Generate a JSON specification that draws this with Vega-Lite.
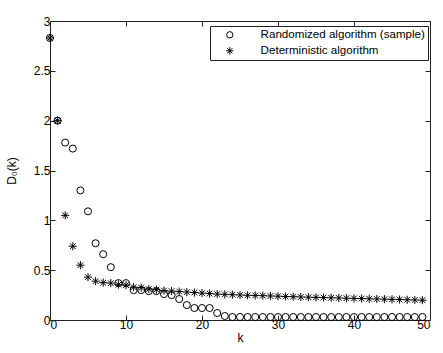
{
  "$schema": "https://vega.github.io/schema/vega-lite/v6.json",
  "width": 380,
  "height": 299,
  "autosize": "none",
  "padding": {"left": 50, "top": 21, "right": 13, "bottom": 33},
  "background": "white",
  "config": {
    "view": {"stroke": "#222", "strokeWidth": 1},
    "font": "Liberation Sans",
    "axis": {"domain": false, "grid": false, "tickColor": "#222", "tickSize": -5, "labelFontSize": 12, "labelColor": "#000", "titleFontSize": 12, "titleFontWeight": "normal", "titleColor": "#000", "labelFont": "Liberation Sans", "titleFont": "Liberation Sans"}
  },
  "data": {"values": [
    {"k":0,"D":2.83,"s":"Randomized algorithm (sample)"},
    {"k":1,"D":2.0,"s":"Randomized algorithm (sample)"},
    {"k":2,"D":1.78,"s":"Randomized algorithm (sample)"},
    {"k":3,"D":1.72,"s":"Randomized algorithm (sample)"},
    {"k":4,"D":1.30,"s":"Randomized algorithm (sample)"},
    {"k":5,"D":1.09,"s":"Randomized algorithm (sample)"},
    {"k":6,"D":0.77,"s":"Randomized algorithm (sample)"},
    {"k":7,"D":0.66,"s":"Randomized algorithm (sample)"},
    {"k":8,"D":0.53,"s":"Randomized algorithm (sample)"},
    {"k":9,"D":0.37,"s":"Randomized algorithm (sample)"},
    {"k":10,"D":0.37,"s":"Randomized algorithm (sample)"},
    {"k":11,"D":0.30,"s":"Randomized algorithm (sample)"},
    {"k":12,"D":0.30,"s":"Randomized algorithm (sample)"},
    {"k":13,"D":0.29,"s":"Randomized algorithm (sample)"},
    {"k":14,"D":0.29,"s":"Randomized algorithm (sample)"},
    {"k":15,"D":0.26,"s":"Randomized algorithm (sample)"},
    {"k":16,"D":0.25,"s":"Randomized algorithm (sample)"},
    {"k":17,"D":0.21,"s":"Randomized algorithm (sample)"},
    {"k":18,"D":0.15,"s":"Randomized algorithm (sample)"},
    {"k":19,"D":0.12,"s":"Randomized algorithm (sample)"},
    {"k":20,"D":0.12,"s":"Randomized algorithm (sample)"},
    {"k":21,"D":0.12,"s":"Randomized algorithm (sample)"},
    {"k":22,"D":0.07,"s":"Randomized algorithm (sample)"},
    {"k":23,"D":0.04,"s":"Randomized algorithm (sample)"},
    {"k":24,"D":0.03,"s":"Randomized algorithm (sample)"},
    {"k":25,"D":0.03,"s":"Randomized algorithm (sample)"},
    {"k":26,"D":0.03,"s":"Randomized algorithm (sample)"},
    {"k":27,"D":0.03,"s":"Randomized algorithm (sample)"},
    {"k":28,"D":0.03,"s":"Randomized algorithm (sample)"},
    {"k":29,"D":0.03,"s":"Randomized algorithm (sample)"},
    {"k":30,"D":0.03,"s":"Randomized algorithm (sample)"},
    {"k":31,"D":0.03,"s":"Randomized algorithm (sample)"},
    {"k":32,"D":0.03,"s":"Randomized algorithm (sample)"},
    {"k":33,"D":0.03,"s":"Randomized algorithm (sample)"},
    {"k":34,"D":0.03,"s":"Randomized algorithm (sample)"},
    {"k":35,"D":0.03,"s":"Randomized algorithm (sample)"},
    {"k":36,"D":0.03,"s":"Randomized algorithm (sample)"},
    {"k":37,"D":0.03,"s":"Randomized algorithm (sample)"},
    {"k":38,"D":0.03,"s":"Randomized algorithm (sample)"},
    {"k":39,"D":0.03,"s":"Randomized algorithm (sample)"},
    {"k":40,"D":0.03,"s":"Randomized algorithm (sample)"},
    {"k":41,"D":0.03,"s":"Randomized algorithm (sample)"},
    {"k":42,"D":0.03,"s":"Randomized algorithm (sample)"},
    {"k":43,"D":0.03,"s":"Randomized algorithm (sample)"},
    {"k":44,"D":0.03,"s":"Randomized algorithm (sample)"},
    {"k":45,"D":0.03,"s":"Randomized algorithm (sample)"},
    {"k":46,"D":0.03,"s":"Randomized algorithm (sample)"},
    {"k":47,"D":0.03,"s":"Randomized algorithm (sample)"},
    {"k":48,"D":0.03,"s":"Randomized algorithm (sample)"},
    {"k":49,"D":0.03,"s":"Randomized algorithm (sample)"},
    {"k":0,"D":2.83,"s":"Deterministic algorithm"},
    {"k":1,"D":2.0,"s":"Deterministic algorithm"},
    {"k":2,"D":1.05,"s":"Deterministic algorithm"},
    {"k":3,"D":0.74,"s":"Deterministic algorithm"},
    {"k":4,"D":0.55,"s":"Deterministic algorithm"},
    {"k":5,"D":0.43,"s":"Deterministic algorithm"},
    {"k":6,"D":0.39,"s":"Deterministic algorithm"},
    {"k":7,"D":0.375,"s":"Deterministic algorithm"},
    {"k":8,"D":0.37,"s":"Deterministic algorithm"},
    {"k":9,"D":0.355,"s":"Deterministic algorithm"},
    {"k":10,"D":0.35,"s":"Deterministic algorithm"},
    {"k":11,"D":0.33,"s":"Deterministic algorithm"},
    {"k":12,"D":0.325,"s":"Deterministic algorithm"},
    {"k":13,"D":0.31,"s":"Deterministic algorithm"},
    {"k":14,"D":0.305,"s":"Deterministic algorithm"},
    {"k":15,"D":0.295,"s":"Deterministic algorithm"},
    {"k":16,"D":0.29,"s":"Deterministic algorithm"},
    {"k":17,"D":0.285,"s":"Deterministic algorithm"},
    {"k":18,"D":0.28,"s":"Deterministic algorithm"},
    {"k":19,"D":0.275,"s":"Deterministic algorithm"},
    {"k":20,"D":0.27,"s":"Deterministic algorithm"},
    {"k":21,"D":0.265,"s":"Deterministic algorithm"},
    {"k":22,"D":0.26,"s":"Deterministic algorithm"},
    {"k":23,"D":0.257,"s":"Deterministic algorithm"},
    {"k":24,"D":0.254,"s":"Deterministic algorithm"},
    {"k":25,"D":0.251,"s":"Deterministic algorithm"},
    {"k":26,"D":0.248,"s":"Deterministic algorithm"},
    {"k":27,"D":0.246,"s":"Deterministic algorithm"},
    {"k":28,"D":0.244,"s":"Deterministic algorithm"},
    {"k":29,"D":0.241,"s":"Deterministic algorithm"},
    {"k":30,"D":0.239,"s":"Deterministic algorithm"},
    {"k":31,"D":0.236,"s":"Deterministic algorithm"},
    {"k":32,"D":0.234,"s":"Deterministic algorithm"},
    {"k":33,"D":0.231,"s":"Deterministic algorithm"},
    {"k":34,"D":0.229,"s":"Deterministic algorithm"},
    {"k":35,"D":0.227,"s":"Deterministic algorithm"},
    {"k":36,"D":0.225,"s":"Deterministic algorithm"},
    {"k":37,"D":0.223,"s":"Deterministic algorithm"},
    {"k":38,"D":0.221,"s":"Deterministic algorithm"},
    {"k":39,"D":0.219,"s":"Deterministic algorithm"},
    {"k":40,"D":0.217,"s":"Deterministic algorithm"},
    {"k":41,"D":0.215,"s":"Deterministic algorithm"},
    {"k":42,"D":0.213,"s":"Deterministic algorithm"},
    {"k":43,"D":0.211,"s":"Deterministic algorithm"},
    {"k":44,"D":0.209,"s":"Deterministic algorithm"},
    {"k":45,"D":0.207,"s":"Deterministic algorithm"},
    {"k":46,"D":0.205,"s":"Deterministic algorithm"},
    {"k":47,"D":0.203,"s":"Deterministic algorithm"},
    {"k":48,"D":0.201,"s":"Deterministic algorithm"},
    {"k":49,"D":0.199,"s":"Deterministic algorithm"}
  ]},
  "resolve": {"axis": {"x": "independent", "y": "independent"}},
  "layer": [
    {
      "mark": {"type": "point", "filled": false, "stroke": "#000", "strokeWidth": 1, "size": 50, "opacity": 1},
      "encoding": {
        "x": {"field": "k", "type": "quantitative", "scale": {"domain": [0, 50], "nice": false}, "axis": {"orient": "bottom", "values": [0,10,20,30,40,50], "title": "k", "labelPadding": 4, "titlePadding": 2}},
        "y": {"field": "D", "type": "quantitative", "scale": {"domain": [0, 3], "nice": false, "zero": false}, "axis": {"orient": "left", "values": [0,0.5,1,1.5,2,2.5,3], "format": "~g", "title": "D₀(k)", "labelPadding": 5, "titlePadding": 15}},
        "shape": {"field": "s", "type": "nominal",
          "scale": {"domain": ["Randomized algorithm (sample)", "Deterministic algorithm"], "range": ["circle", "M0,-1.15L0,1.15M-1.15,0L1.15,0M-0.8,-0.8L0.8,0.8M-0.8,0.8L0.8,-0.8"]},
          "legend": {"title": null, "orient": "none", "legendX": 160, "legendY": 5, "strokeColor": "#222", "fillColor": "white", "padding": 3, "labelFontSize": 11.6, "labelFont": "Liberation Sans", "labelColor": "#000", "labelLimit": 0, "symbolStrokeColor": "#000", "symbolStrokeWidth": 1, "symbolSize": 40, "labelOffset": 25, "rowPadding": 3, "symbolOffset": 11, "cornerRadius": 0}
        }
      }
    },
    {
      "mark": {"type": "point", "opacity": 0},
      "encoding": {
        "x": {"field": "k", "type": "quantitative", "axis": {"orient": "top", "values": [0,10,20,30,40,50], "labels": false, "title": null}},
        "y": {"field": "D", "type": "quantitative", "axis": {"orient": "right", "values": [0,0.5,1,1.5,2,2.5,3], "labels": false, "title": null}}
      }
    }
  ]
}
